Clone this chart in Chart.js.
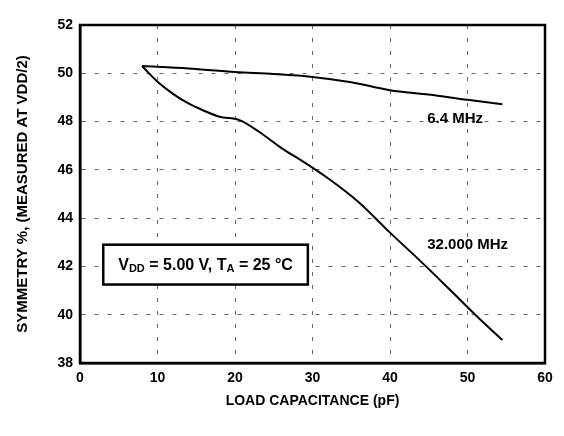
<!DOCTYPE html>
<html>
<head>
<meta charset="utf-8">
<script src="https://cdn.jsdelivr.net/npm/chart.js@4.4.1/dist/chart.umd.min.js"></script>
<style>
  html, body { margin: 0; padding: 0; background: #fff; }
</style>
</head>
<body>
<canvas id="grafico" width="564" height="436"></canvas>
<script>
// datos
const capacidad64 = [8, 14, 20, 25, 30, 35, 40, 45, 50, 54.5];
const simetria64 = [50.3, 50.2, 50.05, 49.97, 49.85, 49.63, 49.3, 49.12, 48.9, 48.72];

const capacidad32 = [8, 10, 12, 14, 16, 18, 20.5, 23, 26, 29, 32, 36, 40, 44, 48, 51, 54.5];
const simetria32 = [50.3, 49.65, 49.15, 48.75, 48.45, 48.2, 48.07, 47.6, 46.9, 46.3, 45.65, 44.65, 43.4, 42.2, 40.95, 40.0, 38.95];

const ticksX = [0, 10, 20, 30, 40, 50, 60];
const ticksY = [38, 40, 42, 44, 46, 48, 50, 52];
const nombresSeries = ['6.4 MHz', '32.000 MHz'];

const fuente = '"Liberation Sans", Arial, sans-serif';

function puntos(xs, ys) {
    return xs.map((x, i) => ({ x: x, y: ys[i] }));
}

// marco negro alrededor del area
const marco = {
    id: 'marco',
    afterDraw(chart) {
        const a = chart.chartArea;
        const ctx = chart.ctx;
        ctx.save();
        ctx.strokeStyle = '#000';
        ctx.lineWidth = 2.5;
        ctx.strokeRect(a.left, a.top, a.right - a.left, a.bottom - a.top);
        ctx.restore();
    }
};

// recuadro con condiciones y nombres de curvas
const notas = {
    id: 'notas',
    afterDatasetsDraw(chart) {
        const ctx = chart.ctx;
        const sx = chart.scales.x;
        const sy = chart.scales.y;
        ctx.save();

        //recuadro
        const x0 = sx.getPixelForValue(3.0);
        const x1 = sx.getPixelForValue(29.4);
        const y0 = sy.getPixelForValue(42.9);
        const y1 = sy.getPixelForValue(41.25);
        ctx.fillStyle = '#fff';
        ctx.fillRect(x0, y0, x1 - x0, y1 - y0);
        ctx.strokeStyle = '#000';
        ctx.lineWidth = 2.5;
        ctx.strokeRect(x0, y0, x1 - x0, y1 - y0);

        //texto con subindices
        const partes = [
            ['V', 16, 0], ['DD', 11, 3], [' = 5.00 V, T', 16, 0], ['A', 11, 3], [' = 25 \u00B0C', 16, 0]
        ];
        let ancho = 0;
        partes.forEach(p => {
            ctx.font = 'bold ' + p[1] + 'px ' + fuente;
            ancho += ctx.measureText(p[0]).width;
        });
        let cx = (x0 + x1) / 2 - ancho / 2;
        const cy = (y0 + y1) / 2 + 1;
        ctx.fillStyle = '#000';
        ctx.textBaseline = 'middle';
        ctx.textAlign = 'left';
        partes.forEach(p => {
            ctx.font = 'bold ' + p[1] + 'px ' + fuente;
            ctx.fillText(p[0], cx, cy + p[2]);
            cx += ctx.measureText(p[0]).width;
        });

        //nombres de las curvas
        ctx.font = 'bold 15px ' + fuente;
        ctx.fillText(nombresSeries[0], sx.getPixelForValue(44.8), sy.getPixelForValue(48.1));
        ctx.fillText(nombresSeries[1], sx.getPixelForValue(44.8), sy.getPixelForValue(42.9));
        ctx.restore();
    }
};

const lineaGrid = {
    color: 'rgba(0,0,0,0.6)',
    lineWidth: 1,
    drawTicks: false
};

const config = {
    type: 'line',
    data: {
        datasets: [
            {
                label: nombresSeries[0],
                data: puntos(capacidad64, simetria64),
                borderColor: '#000',
                borderWidth: 2,
                pointRadius: 0,
                tension: 0.3,
                cubicInterpolationMode: 'monotone'
            },
            {
                label: nombresSeries[1],
                data: puntos(capacidad32, simetria32),
                borderColor: '#000',
                borderWidth: 2,
                pointRadius: 0,
                tension: 0.3,
                cubicInterpolationMode: 'monotone'
            }
        ]
    },
    options: {
        responsive: false,
        animation: false,
        devicePixelRatio: 1,
        layout: { padding: { top: 25, right: 19, left: 0, bottom: 26 } },
        plugins: {
            legend: { display: false },
            tooltip: { enabled: false }
        },
        scales: {
            x: {
                type: 'linear',
                min: 0,
                max: 60,
                afterBuildTicks: s => { s.ticks = ticksX.map(v => ({ value: v })); },
                afterFit: s => { s.height = 47; },
                grid: lineaGrid,
                border: { color: '#000', width: 2.5, dash: [4, 9] },
                ticks: { color: '#000', padding: 7, font: { family: fuente, size: 14, weight: 'bold' } },
                title: {
                    display: true,
                    text: 'LOAD CAPACITANCE (pF)',
                    color: '#000',
                    padding: { top: 0, bottom: 0 },
                    font: { family: fuente, size: 14, weight: 'bold' }
                }
            },
            y: {
                min: 38,
                max: 52,
                afterBuildTicks: s => { s.ticks = ticksY.map(v => ({ value: v })); },
                afterFit: s => { s.width = 80; },
                grid: lineaGrid,
                border: { color: '#000', width: 2.5, dash: [4, 9] },
                ticks: { color: '#000', padding: 7, font: { family: fuente, size: 14, weight: 'bold' } },
                title: {
                    display: true,
                    text: 'SYMMETRY %, (MEASURED AT VDD/2)',
                    color: '#000',
                    padding: { top: 14, bottom: 0 },
                    font: { family: fuente, size: 15, weight: 'bold' }
                }
            }
        }
    },
    plugins: [marco, notas]
};

const grafico = new Chart(document.getElementById('grafico').getContext('2d'), config);
</script>
</body>
</html>
